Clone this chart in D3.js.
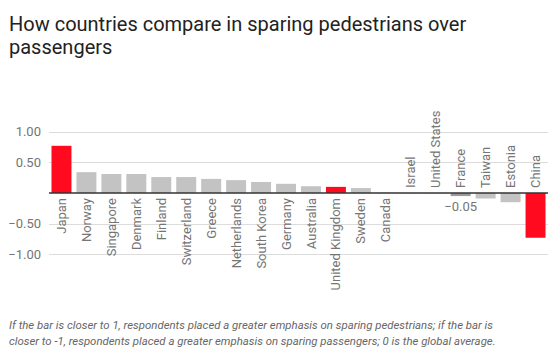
<!DOCTYPE html>
<html>
<head>
<meta charset="utf-8">
<script src="https://cdn.jsdelivr.net/npm/d3@7.9.0/dist/d3.min.js"></script>
<style>
  body { margin: 0; background: #fff; font-family: Roboto, "Noto Sans", sans-serif; }
  svg { display: block; }
</style>
</head>
<body>
<svg width="560" height="352"></svg>
<script>
// === Data ===
const countries = ['Japan', 'Norway', 'Singapore', 'Denmark', 'Finland', 'Switzerland', 'Greece',
  'Netherlands', 'South Korea', 'Germany', 'Australia', 'United Kingdom', 'Sweden', 'Canada',
  'Israel', 'United States', 'France', 'Taiwan', 'Estonia', 'China'];
const values = [0.77, 0.34, 0.31, 0.31, 0.26, 0.26, 0.23, 0.21, 0.18, 0.15, 0.11, 0.10, 0.08, 0.003,
  -0.003, -0.005, -0.05, -0.09, -0.15, -0.73];
const highlighted = ['Japan', 'United Kingdom', 'China'];
const annotated = ['France'];
const yTicks = [-1, -0.5, 0.5, 1];

const data = countries.map((c, i) => ({ country: c, value: values[i] }));

const svg = d3.select('svg');

// title
const title = svg.append('text')
  .attr('x', 9).attr('y', 31)
  .attr('font-size', 20).attr('fill', '#222');
title.append('tspan').attr('x', 9).text('How countries compare in sparing pedestrians over');
title.append('tspan').attr('x', 9).attr('dy', 23).text('passengers');

// scales
const x = d3.scaleBand().domain(countries).range([49, 548]).paddingInner(0.2).paddingOuter(0.1);
const y = d3.scaleLinear().domain([-1, 1]).range([254.3, 131.7]);

// gridlines + tick labels
const grid = svg.append('g');
yTicks.forEach(t => {
  grid.append('line')
    .attr('x1', 49).attr('x2', 548)
    .attr('y1', Math.round(y(t)) + 0.5).attr('y2', Math.round(y(t)) + 0.5)
    .attr('stroke', '#dcdcdc');
  grid.append('text')
    .attr('x', 41).attr('y', y(t)).attr('dy', '0.35em')
    .attr('text-anchor', 'end')
    .attr('font-size', 13).attr('fill', '#757575')
    .text(d3.format('.2f')(t));
});

// bars
svg.append('g').selectAll('rect')
  .data(data)
  .join('rect')
  .attr('x', d => x(d.country))
  .attr('width', x.bandwidth())
  .attr('y', d => y(Math.max(0, d.value)))
  .attr('height', d => Math.abs(y(d.value) - y(0)))
  .attr('fill', d => highlighted.includes(d.country) ? '#ff0a1f'
    : annotated.includes(d.country) ? '#9a9a9a' : '#c3c3c3');

// zero baseline
svg.append('line')
  .attr('x1', 49).attr('x2', 548)
  .attr('y1', y(0)).attr('y2', y(0))
  .attr('stroke', '#333').attr('stroke-width', 1.5);

// category labels (rotated, on the opposite side of the bar)
svg.append('g').selectAll('text')
  .data(data)
  .join('text')
  .attr('transform', d => {
    const cx = x(d.country) + x.bandwidth() / 2;
    const cy = d.value >= 0 ? y(0) + 5 : y(0) - 5;
    return `translate(${cx},${cy}) rotate(-90)`;
  })
  .attr('text-anchor', d => d.value >= 0 ? 'end' : 'start')
  .attr('dy', '0.35em')
  .attr('font-size', 13).attr('fill', '#757575')
  .text(d => d.country);

// value annotation
data.filter(d => annotated.includes(d.country)).forEach(d => {
  svg.append('text')
    .attr('x', x(d.country) + x.bandwidth() / 2)
    .attr('y', y(d.value) + 15)
    .attr('text-anchor', 'middle')
    .attr('font-size', 13).attr('fill', '#757575')
    .text(d3.format('.2f')(d.value));
});

// footnote
const note = svg.append('text')
  .attr('x', 9).attr('y', 329)
  .attr('font-size', 11.4).attr('font-style', 'italic').attr('fill', '#666');
note.append('tspan').attr('x', 9)
  .text('If the bar is closer to 1, respondents placed a greater emphasis on sparing pedestrians; if the bar is');
note.append('tspan').attr('x', 9).attr('dy', 16)
  .text('closer to -1, respondents placed a greater emphasis on sparing passengers; 0 is the global average.');
</script>
</body>
</html>
